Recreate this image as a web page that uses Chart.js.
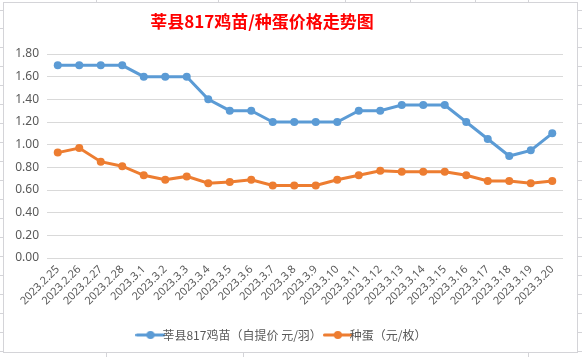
<!DOCTYPE html>
<html><head><meta charset="utf-8">
<script src="https://cdn.jsdelivr.net/npm/chart.js@4.4.0/dist/chart.umd.min.js"></script>
<style>html,body{margin:0;padding:0;background:#fff;}#wrap{width:582px;height:357px;position:relative;}</style>
</head><body><div id="wrap"><canvas id="c" width="582" height="357"></canvas></div>
<script>
const categories = ["2023.2.25","2023.2.26","2023.2.27","2023.2.28","2023.3.1","2023.3.2","2023.3.3","2023.3.4","2023.3.5","2023.3.6","2023.3.7","2023.3.8","2023.3.9","2023.3.10","2023.3.11","2023.3.12","2023.3.13","2023.3.14","2023.3.15","2023.3.16","2023.3.17","2023.3.18","2023.3.19","2023.3.20"];
const chickPrice = [1.70,1.70,1.70,1.70,1.60,1.60,1.60,1.40,1.30,1.30,1.20,1.20,1.20,1.20,1.30,1.30,1.35,1.35,1.35,1.20,1.05,0.90,0.95,1.10];
const eggPrice = [0.93,0.97,0.85,0.81,0.73,0.69,0.72,0.66,0.67,0.69,0.64,0.64,0.64,0.69,0.73,0.77,0.76,0.76,0.76,0.73,0.68,0.68,0.66,0.68];
const seriesNames = ["莘县817鸡苗（自提价 元/羽）","种蛋（元/枚）"];
const titleText = "莘县817鸡苗/种蛋价格走势图";
const yTicks = {min:0, max:1.8, step:0.2};

const BLUE = "#5B9BD5", ORANGE = "#ED7D31";
function legendIcon(color){
  const cv = document.createElement('canvas'); cv.width = 30; cv.height = 10;
  const g = cv.getContext('2d');
  g.strokeStyle = color; g.lineWidth = 3; g.lineCap='round';
  g.beginPath(); g.moveTo(1.5,5); g.lineTo(28.5,5); g.stroke();
  g.fillStyle = color; g.beginPath(); g.arc(15,5,4,0,Math.PI*2); g.fill();
  return cv;
}
const decor = {
  id:'decor',
  beforeDraw(chart){
    const g = chart.ctx;
    g.save();
    g.strokeStyle = '#d4d4d8'; g.lineWidth = 1;
    g.strokeRect(3.5,2.5,574,350);
    g.beginPath();
    [10,28,47,66,85,104,123,142,161,180,199,218,237,256,275,294,313,332,351].forEach(y=>{
      g.moveTo(0,y+0.5); g.lineTo(3,y+0.5); g.moveTo(578,y+0.5); g.lineTo(582,y+0.5);
    });
    [96,218,345,410,475,528].forEach(x=>{ g.moveTo(x+0.5,0); g.lineTo(x+0.5,2); });
    [106,243,528].forEach(x=>{ g.moveTo(x+0.5,353); g.lineTo(x+0.5,357); });
    g.stroke();
    g.restore();
  },
  afterDraw(chart){
    const g = chart.ctx;
    g.save();
    g.fillStyle = '#FF0000';
    g.font = 'bold 17px "Noto Sans CJK SC"';
    g.textAlign = 'center'; g.textBaseline = 'middle';
    g.fillText(titleText, 262, 22);
    g.restore();
  }
};
new Chart(document.getElementById('c'), {
  type:'line',
  data:{
    labels: categories,
    datasets:[
      {label: seriesNames[0], data: chickPrice, borderColor: BLUE, backgroundColor: BLUE, borderWidth:3, pointRadius:4, pointBackgroundColor: BLUE, pointBorderWidth:0, tension:0, pointStyle:'circle'},
      {label: seriesNames[1], data: eggPrice, borderColor: ORANGE, backgroundColor: ORANGE, borderWidth:3, pointRadius:4, pointBackgroundColor: ORANGE, pointBorderWidth:0, tension:0, pointStyle:'circle'}
    ]
  },
  options:{
    responsive:false, animation:false, devicePixelRatio:1,
    layout:{padding:{left:8, right:19, top:54, bottom:6}},
    plugins:{
      title:{display:false},
      tooltip:{enabled:false},
      legend:{
        position:'bottom',
        labels:{
          font:{size:12, family:'"Noto Sans CJK SC"'}, color:'#595959',
          usePointStyle:true, boxWidth:30, boxHeight:10, padding:10,
          generateLabels(chart){
            return chart.data.datasets.map((d,i)=>({text:d.label, pointStyle: legendIcon(d.borderColor), fillStyle:d.borderColor, strokeStyle:d.borderColor, lineWidth:0, hidden:false, datasetIndex:i, fontColor:'#595959'}));
          }
        }
      }
    },
    scales:{
      x:{
        offset:true,
        grid:{display:false, drawTicks:false},
        border:{display:false},
        ticks:{minRotation:45, maxRotation:45, autoSkip:false, color:'#595959', font:{size:11, family:'"Noto Sans"'}, padding:5},
        afterFit(s){ s.height = 61; }
      },
      y:{
        min:yTicks.min, max:yTicks.max,
        grid:{color:'#d9d9d9', lineWidth:1, drawTicks:false},
        border:{display:false},
        ticks:{stepSize:yTicks.step, color:'#595959', font:{size:12, family:'"Noto Sans"'}, padding:8, callback:v=>Number(v).toFixed(2)},
        afterFit(s){ s.width = 39; }
      }
    }
  },
  plugins:[decor]
});
</script></body></html>
